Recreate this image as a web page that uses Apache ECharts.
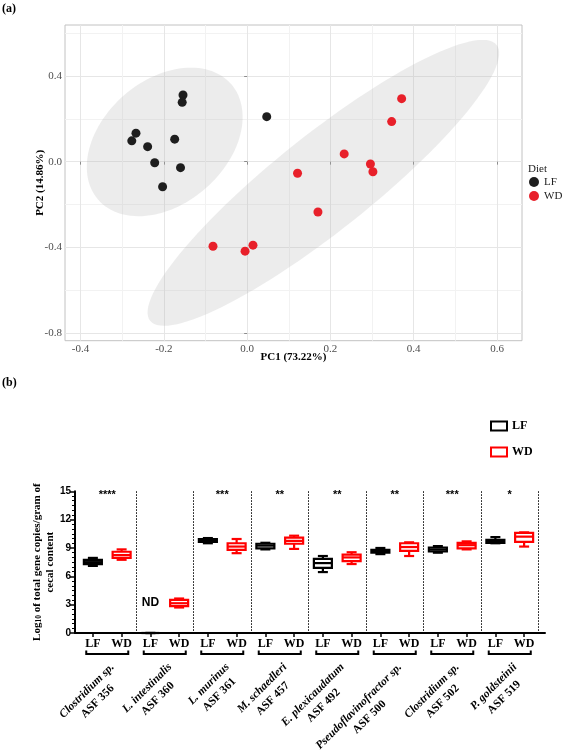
<!DOCTYPE html>
<html><head><meta charset="utf-8">
<script src="https://cdn.jsdelivr.net/npm/echarts@6/dist/echarts.min.js"></script>
<style>html,body{margin:0;padding:0;background:#fff}#c{width:562px;height:750px}</style>
</head><body><div id="c"></div>
<script>
// ---------- Panel (a): PCA scores ----------
const lfPC1 = [-0.154, -0.156, -0.267, -0.277, -0.239, -0.174, -0.222, -0.160, -0.203, 0.047];
const lfPC2 = [0.311, 0.277, 0.133, 0.097, 0.070, 0.105, -0.005, -0.028, -0.117, 0.210];
const wdPC1 = [0.371, 0.347, 0.233, 0.296, 0.302, 0.121, 0.170, -0.082, 0.014, -0.005];
const wdPC2 = [0.294, 0.187, 0.036, -0.011, -0.047, -0.054, -0.235, -0.395, -0.390, -0.418];
// confidence ellipses: centre and two conjugate half-axis vectors (data units)
const lfEllipseCenter = [-0.198, 0.092];
const lfEllipseU = [0.160, 0.269];
const lfEllipseV = [-0.097, 0.219];
const wdEllipseCenter = [0.183, -0.099];
const wdEllipseU = [0.416, 0.644];
const wdEllipseV = [-0.0717, 0.1755];
const pcXTicks = [-0.4, -0.2, 0.0, 0.2, 0.4, 0.6];
const pcXMinor = [-0.3, -0.1, 0.1, 0.3, 0.5];
const pcYTicks = [-0.8, -0.4, 0.0, 0.4];
const pcYMinor = [-0.6, -0.2, 0.2, 0.6];

// ---------- Panel (b): qPCR box plots ----------
const diets = ['LF', 'WD'];
const groupSpecies = ['Clostridium sp.', 'L. intestinalis', 'L. murinus', 'M. schaedleri',
  'E. plexicaudatum', 'Pseudoflavinofractor sp.', 'Clostridium sp.', 'P. goldsteinii'];
const groupASF = ['ASF 356', 'ASF 360', 'ASF 361', 'ASF 457', 'ASF 492', 'ASF 500', 'ASF 502', 'ASF 519'];
const significance = ['****', '', '***', '**', '**', '**', '***', '*'];
// [min, Q1, median, Q3, max]
const lfBox = [[7.1, 7.3, 7.5, 7.75, 7.95], [0, 0, 0, 0, 0], [9.5, 9.65, 9.8, 9.95, 10.05],
  [8.85, 8.95, 9.25, 9.45, 9.55], [6.45, 6.9, 7.4, 7.85, 8.15], [8.35, 8.5, 8.65, 8.8, 9.0],
  [8.5, 8.65, 8.85, 9.05, 9.2], [9.5, 9.55, 9.7, 9.85, 10.15]];
const wdBox = [[7.75, 7.95, 8.25, 8.6, 8.85], [2.7, 2.85, 3.15, 3.5, 3.65], [8.45, 8.8, 9.15, 9.5, 9.95],
  [8.9, 9.45, 9.75, 10.1, 10.3], [7.3, 7.6, 8.0, 8.3, 8.55], [8.15, 8.7, 9.1, 9.5, 9.6],
  [8.85, 8.95, 9.3, 9.55, 9.7], [9.15, 9.65, 10.2, 10.6, 10.65]];
const ndLabel = {group: 1, value: 3.2, text: 'ND'};
const yTicksB = [0, 15, 3];

const SERIF = 'Liberation Serif, Times New Roman, serif';
const SANS = 'Liberation Sans, Arial, sans-serif';
const LFCOL = '#1e1e1e', WDCOL = '#e8202a';

const slotCats = [];
groupSpecies.forEach(() => diets.forEach(d => slotCats.push(d)));

function ellipseData(c, u, v) {
  const pts = [];
  for (let i = 0; i <= 120; i++) {
    const t = i / 120 * Math.PI * 2;
    pts.push([c[0] + u[0] * Math.cos(t) + v[0] * Math.sin(t), c[1] + u[1] * Math.cos(t) + v[1] * Math.sin(t)]);
  }
  return pts;
}
function ellipseSeries(name, c, u, v) {
  const pts = ellipseData(c, u, v);
  return {
    type: 'custom', name: name + ' ellipse', xAxisIndex: 0, yAxisIndex: 0, z: 1, silent: true,
    data: [0],
    renderItem: function (params, api) {
      return {type: 'polygon', shape: {points: pts.map(p => api.coord(p))},
        style: {fill: 'rgba(175,175,175,0.24)', stroke: null}};
    }
  };
}

function boxRender(color) {
  return function (params, api) {
    const x = api.value(0);
    const lo = api.coord([x, api.value(1)]);
    const q1 = api.coord([x, api.value(2)]);
    const med = api.coord([x, api.value(3)]);
    const q3 = api.coord([x, api.value(4)]);
    const hi = api.coord([x, api.value(5)]);
    const cx = lo[0], bw = 18, cw = 10, lw = 2.2;
    const st = {stroke: color, lineWidth: lw, fill: null};
    return {type: 'group', children: [
      {type: 'line', shape: {x1: cx, y1: hi[1], x2: cx, y2: q3[1]}, style: st},
      {type: 'line', shape: {x1: cx, y1: q1[1], x2: cx, y2: lo[1]}, style: st},
      {type: 'line', shape: {x1: cx - cw / 2, y1: hi[1], x2: cx + cw / 2, y2: hi[1]}, style: st},
      {type: 'line', shape: {x1: cx - cw / 2, y1: lo[1], x2: cx + cw / 2, y2: lo[1]}, style: st},
      {type: 'rect', shape: {x: cx - bw / 2, y: q3[1], width: bw, height: Math.max(q1[1] - q3[1], 0)},
        style: {stroke: color, lineWidth: lw, fill: '#fff'}},
      {type: 'line', shape: {x1: cx - bw / 2, y1: med[1], x2: cx + bw / 2, y2: med[1]}, style: st}
    ]};
  };
}

function annotRender(params, api) {
  const g = api.value(0);
  const a = api.coord([2 * g, 0]);
  const b = api.coord([2 * g + 1, 0]);
  const top = api.coord([2 * g, 15]);
  const cx = (a[0] + b[0]) / 2, y0 = a[1];
  const children = [
    {type: 'polyline', shape: {points: [[cx - 21, y0 + 17.5], [cx - 21, y0 + 21], [cx + 21, y0 + 21], [cx + 21, y0 + 17.5]]},
      style: {stroke: '#000', lineWidth: 2, fill: null}},
    {type: 'text', x: cx, y: y0 + 27, rotation: Math.PI / 4,
      style: {text: '{i|' + groupSpecies[g] + '}\n{n|' + groupASF[g] + '}', align: 'right', verticalAlign: 'top',
        rich: {
          i: {fontFamily: SERIF, fontStyle: 'italic', fontWeight: 'bold', fontSize: 11.5, lineHeight: 15, align: 'center', fill: '#000'},
          n: {fontFamily: SERIF, fontWeight: 'bold', fontSize: 11.5, lineHeight: 15, align: 'center', fill: '#000'}
        }}}
  ];
  if (significance[g]) {
    children.push({type: 'text', x: cx, y: top[1] + 4,
      style: {text: significance[g], fontFamily: SANS, fontWeight: 'bold', fontSize: 11, fill: '#000', align: 'center', verticalAlign: 'middle'}});
  }
  return {type: 'group', children: children};
}

const chart = echarts.init(document.getElementById('c'), null, {renderer: 'canvas'});
const option = {
  animation: false,
  backgroundColor: '#fff',
  title: [
    {text: '(a)', left: 2, top: 3, padding: 0, textStyle: {fontFamily: SERIF, fontWeight: 'bold', fontSize: 12, color: '#000'}},
    {text: '(b)', left: 2, top: 377, padding: 0, textStyle: {fontFamily: SERIF, fontWeight: 'bold', fontSize: 12, color: '#000'}},
    {text: 'Diet', left: 528, top: 164, padding: 0, textStyle: {fontFamily: SERIF, fontWeight: 'normal', fontSize: 11, color: '#222'}}
  ],
  legend: [
    {orient: 'vertical', left: 529, top: 176, padding: 0, itemWidth: 10, itemHeight: 10, itemGap: 2, selectedMode: false,
      textStyle: {fontFamily: SERIF, fontSize: 11, color: '#222', lineHeight: 12},
      data: [{name: 'LF', icon: 'circle', itemStyle: {color: LFCOL, borderWidth: 0}},
             {name: 'WD', icon: 'circle', itemStyle: {color: WDCOL, borderWidth: 0}}]},
    {orient: 'vertical', left: 490, top: 419, padding: 0, itemWidth: 16, itemHeight: 9, itemGap: 12, selectedMode: false,
      textStyle: {fontFamily: SERIF, fontWeight: 'bold', fontSize: 12, color: '#000', lineHeight: 14},
      data: [{name: 'LF', icon: 'rect', itemStyle: {color: '#fff', borderColor: '#000', borderWidth: 2}},
             {name: 'WD', icon: 'rect', itemStyle: {color: '#fff', borderColor: '#f00', borderWidth: 2}}]}
  ],
  grid: [
    {left: 65, right: 40, top: 25, bottom: 409.3, show: true, borderColor: '#c2c2c2', borderWidth: 1, backgroundColor: 'transparent'},
    {left: 78.5, right: 23.5, top: 491.3, bottom: 117},
    {left: 75, right: 17, top: 491.3, bottom: 117}
  ],
  xAxis: [
    {gridIndex: 0, type: 'value', min: -0.4374, max: 0.66,
      name: 'PC1 (73.22%)', nameLocation: 'middle', nameGap: 11, nameMoveOverlap: false,
      nameTextStyle: {fontFamily: SERIF, fontWeight: 'bold', fontSize: 11, color: '#000'},
      axisLine: {show: false},
      axisTick: {show: true, length: 3, lineStyle: {color: '#8c8c8c'}, customValues: pcXTicks},
      axisLabel: {customValues: pcXTicks, margin: 3, color: '#4d4d4d', fontFamily: SERIF, fontSize: 11,
        formatter: v => v.toFixed(1)},
      splitLine: {show: true, lineStyle: {color: '#e6e6e6', width: 1}}},
    {gridIndex: 0, type: 'value', min: -0.4374, max: 0.66, position: 'bottom',
      axisLine: {show: false}, axisTick: {show: false, customValues: pcXMinor},
      axisLabel: {show: false, customValues: pcXMinor},
      splitLine: {show: true, lineStyle: {color: '#f2f2f2', width: 1}}},
    {gridIndex: 1, type: 'category', data: slotCats, boundaryGap: true,
      axisLine: {show: false},
      axisTick: {show: true, alignWithLabel: true, length: 4, lineStyle: {color: '#000', width: 1.5}},
      axisLabel: {interval: 0, margin: 5, fontFamily: SERIF, fontWeight: 'bold', fontSize: 12, color: '#000'},
      splitLine: {show: true, interval: (i) => i % 2 === 0 && i > 0,
        lineStyle: {color: '#000', width: 1, type: [1.5, 1.5]}}},
    {gridIndex: 2, type: 'value', min: 0, max: 1,
      axisLine: {show: true, lineStyle: {color: '#000', width: 2}},
      axisTick: {show: false}, axisLabel: {show: false}, splitLine: {show: false}}
  ],
  yAxis: [
    {gridIndex: 0, type: 'value', min: -0.836, max: 0.638,
      name: 'PC2 (14.86%)', nameLocation: 'middle', nameGap: 19, nameRotate: 90, nameMoveOverlap: false,
      nameTextStyle: {fontFamily: SERIF, fontWeight: 'bold', fontSize: 11, color: '#000'},
      axisLine: {show: false},
      axisTick: {show: true, length: 3, lineStyle: {color: '#8c8c8c'}, customValues: pcYTicks},
      axisLabel: {customValues: pcYTicks, margin: 3, color: '#4d4d4d', fontFamily: SERIF, fontSize: 11,
        formatter: v => v.toFixed(1)},
      splitLine: {show: true, lineStyle: {color: '#e6e6e6', width: 1}}},
    {gridIndex: 0, type: 'value', min: -0.836, max: 0.638, position: 'left',
      axisLine: {show: false}, axisTick: {show: false, customValues: pcYMinor},
      axisLabel: {show: false, customValues: pcYMinor},
      splitLine: {show: true, lineStyle: {color: '#f2f2f2', width: 1}}},
    {gridIndex: 1, type: 'value', min: yTicksB[0], max: yTicksB[1], interval: yTicksB[2], offset: 3.5,
      name: '{b|Log}{s|10}{b| of total gene copies/gram of}\n{b|cecal content}',
      nameLocation: 'middle', nameGap: 18, nameRotate: 90, nameMoveOverlap: false,
      nameTextStyle: {rich: {
        b: {fontFamily: SERIF, fontWeight: 'bold', fontSize: 11, lineHeight: 13.5, align: 'center', color: '#000'},
        s: {fontFamily: SERIF, fontWeight: 'bold', fontSize: 7.5, lineHeight: 8, verticalAlign: 'bottom', align: 'center', color: '#000'}}},
      axisLine: {show: true, lineStyle: {color: '#000', width: 2}},
      axisTick: {show: true, length: 5, lineStyle: {color: '#000', width: 1.5}},
      minorTick: {show: true, splitNumber: 6, length: 3, lineStyle: {color: '#000', width: 1}},
      axisLabel: {margin: 4, fontFamily: SANS, fontWeight: 'bold', fontSize: 10, color: '#000'},
      splitLine: {show: false}},
    {gridIndex: 2, type: 'value', show: false, min: 0, max: 1}
  ],
  series: [
    ellipseSeries('LF', lfEllipseCenter, lfEllipseU, lfEllipseV),
    ellipseSeries('WD', wdEllipseCenter, wdEllipseU, wdEllipseV),
    {type: 'scatter', name: 'LF', xAxisIndex: 0, yAxisIndex: 0, z: 3, symbolSize: 9,
      itemStyle: {color: LFCOL, opacity: 1}, data: lfPC1.map((x, i) => [x, lfPC2[i]])},
    {type: 'scatter', name: 'WD', xAxisIndex: 0, yAxisIndex: 0, z: 3, symbolSize: 9,
      itemStyle: {color: WDCOL, opacity: 1}, data: wdPC1.map((x, i) => [x, wdPC2[i]])},
    {type: 'custom', name: 'LF', xAxisIndex: 2, yAxisIndex: 2, z: 4, clip: false,
      itemStyle: {color: '#000'}, renderItem: boxRender('#000'),
      data: lfBox.map((b, g) => [2 * g].concat(b))},
    {type: 'custom', name: 'WD', xAxisIndex: 2, yAxisIndex: 2, z: 4, clip: false,
      itemStyle: {color: '#f00'}, renderItem: boxRender('#f00'),
      data: wdBox.map((b, g) => [2 * g + 1].concat(b))},
    {type: 'custom', name: 'annotations', xAxisIndex: 2, yAxisIndex: 2, z: 5, clip: false, silent: true,
      renderItem: annotRender, data: groupSpecies.map((s, g) => [g])},
    {type: 'custom', name: 'nd', xAxisIndex: 2, yAxisIndex: 2, z: 5, clip: false, silent: true,
      data: [[2 * ndLabel.group, ndLabel.value]],
      renderItem: function (params, api) {
        const p = api.coord([api.value(0), api.value(1)]);
        return {type: 'text', x: p[0], y: p[1],
          style: {text: ndLabel.text, fontFamily: SANS, fontWeight: 'bold', fontSize: 12, fill: '#000', align: 'center', verticalAlign: 'middle'}};
      }}
  ]
};
chart.setOption(option);
</script></body></html>
